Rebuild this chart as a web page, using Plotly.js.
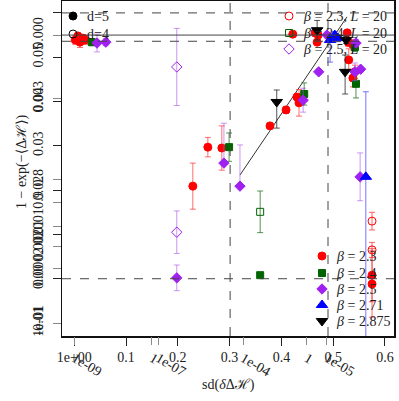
<!DOCTYPE html>
<html>
<head>
<meta charset="utf-8">
<script src="https://cdn.plot.ly/plotly-3.0.1.min.js"></script>
<style>
  html, body { margin: 0; padding: 0; background: #fff; }
  #chart { width: 399px; height: 401px; }
</style>
</head>
<body>
<div id="chart"></div>
<script>
// beta = 2.3, d = 5 (filled)
var redX   = [0.002, 0.007, 0.011, 0.017, 0.021, 0.229, 0.258, 0.285, 0.378, 0.409, 0.430, 0.434, 0.422, 0.465, 0.469, 0.471, 0.527, 0.529, 0.538, 0.530, 0.542, 0.538, 0.575, 0.575];
var redY   = [0.0539, 0.0548, 0.0534, 0.0543, 0.0539, 0.0209, 0.0297, 0.0295, 0.0345, 0.0381, 0.0410, 0.0397, 0.0552, 0.0555, 0.0534, 0.0550, 0.0555, 0.0534, 0.0528, 0.0494, 0.0467, 0.0453, 0.0008, -0.0012];
var redErr = [0.0010, 0.0008, 0.0012, 0.0008, 0.0010, 0.0052, 0.0022, 0.0050, 0.0005, 0.0008, 0.0008, 0.0030, 0.0006, 0.0008, 0.0006, 0.0008, 0.0006, 0.0010, 0.0012, 0.0025, 0.0015, 0.0020, 0.0060, 0.0075];
// beta = 2.3, L = 20 (open)
var redOpenX = [0.575, 0.575];
var redOpenY = [0.0130, 0.0065];
var redOpenErr = [0.0020, 0.0017];

// beta = 2.4
var greenX   = [0.034, 0.299, 0.444, 0.359, 0.544, 0.542];
var greenY   = [0.0534, 0.0297, 0.0417, 0.0008, 0.0440, 0.0523];
var greenErr = [0.0008, 0.0032, 0.0025, 0.0004, 0.0032, 0.0010];
var greenOpenX = [0.359];
var greenOpenY = [0.0151];
var greenOpenErr = [0.0047];

// beta = 2.5
var purpleX = [0.044, 0.061, 0.289, 0.320, 0.442, 0.472, 0.542, 0.553, 0.544, 0.488, 0.552, 0.198];
var purpleY = [0.0532, 0.0534, 0.0261, 0.0209, 0.0403, 0.0467, 0.0467, 0.0473, 0.0532, 0.0550, 0.0230, 0.0002];
var purpleErrUp   = [0.0020, 0.0008, 0.0090, 0.0093, 0.0027, 0.0006, 0.0020, 0.0006, 0.0008, 0.0006, 0.0054, 0.0029];
var purpleErrDown = [0.0020, 0.0008, 0.0005, 0.0000, 0.0027, 0.0006, 0.0020, 0.0006, 0.0008, 0.0006, 0.0054, 0.0029];
var purpleOpenX = [0.198, 0.198];
var purpleOpenY = [0.0478, 0.0105];
var purpleOpenErr = [0.0087, 0.0048];

// beta = 2.71
var blueX = [0.494, 0.503, 0.509, 0.563];
var blueY = [0.0539, 0.0550, 0.0543, 0.0230];
var blueErrUp   = [0.0008, 0.0008, 0.0008, 0.0192];
var blueErrDown = [0.0050, 0.0008, 0.0008, 0.0400];

// beta = 2.875
var blackX = [0.391, 0.469, 0.523, 0.525];
var blackY = [0.0399, 0.0561, 0.0467, 0.0539];
var blackErrUp   = [0.0027, 0.0022, 0.0038, 0.0008];
var blackErrDown = [0.0059, 0.0022, 0.0050, 0.0008];

// fit line
var fitX = [0.320, 0.5266];
var fitY = [0.0234, 0.0591];

// reference lines
var dashedH = [0.06, 0.0536, 0];
var solidH = [0.0550];
var dashedV = [0.301, 0.490];

// tick labels (two overlaid sets)
var xTickVals = [0, 0.1, 0.2, 0.3, 0.4, 0.5, 0.6];
var xTickText = ['1e+00', '0.1', '0.2', '0.3', '0.4', '0.5', '0.6'];
var x2TickVals = [0.0, 0.150, 0.162, 0.326, 0.449, 0.488];
var x2TickText = ['1e-09', '1', '1e-07', '1e-04', '1', '1e-05'];
var yTickVals = [0.06, 0.05, 0.04, 0.03, 0.02, 0.01, 0, -0.01];
var yTickText = ['0.06', '0.05', '0.04', '0.03', '0.02', '0.01', '0.00', '-0.01'];
var y2TickVals = [0.0550, 0.0406, 0.0223, 0.0173, 0.0119, 0.0072, 0.0022, -0.0100];
var y2TickText = ['0.000', '0.003', '0.8', '0.9', '0.001', '0.002', '0.0002', '1e-01'];

// legend keys (placed on a pixel-like overlay axis)
var keyX = [73, 73, 289, 289, 289, 322, 322, 322, 322, 322];
var keyY = [16, 34, 16, 33, 49, 256, 273, 289, 305, 321];
var keySymbols = ['circle', 'circle-open', 'circle-open', 'square-open', 'diamond-open', 'circle', 'square', 'diamond', 'triangle-up', 'triangle-down'];
var keyColors = ['black', 'black', 'red', '#006400', '#A020F0', 'red', '#006400', '#A020F0', 'blue', 'black'];
var keySizes = [8, 8, 8, 7, 8, 8, 7, 8, 10, 10];
var keyLabels = ['d=5', 'd=4',
  '<i>β</i> = 2.3, <i>L</i> = 20', '<i>β</i> = 2.4, <i>L</i> = 20', '<i>β</i> = 2.5, <i>L</i> = 20',
  '<i>β</i> = 2.3', '<i>β</i> = 2.4', '<i>β</i> = 2.5', '<i>β</i> = 2.71', '<i>β</i> = 2.875'];

var FONT = 'Liberation Serif, DejaVu Serif, serif';

function errs(up, down, color) {
    var e = { type: 'data', array: up, color: color, thickness: 1, width: 3, visible: true };
    if (down) { e.symmetric = false; e.arrayminus = down; }
    return e;
}

function pts(x, y, symbol, color, size, err) {
    return {
        x: x, y: y, type: 'scatter', mode: 'markers',
        marker: { symbol: symbol, color: color, size: size, opacity: 1, line: { color: color, width: 1 } },
        error_y: err, showlegend: false, hoverinfo: 'skip'
    };
}

var traces = [
    { x: fitX, y: fitY, type: 'scatter', mode: 'lines', line: { color: '#333', width: 1 }, showlegend: false },
    pts(redX, redY, 'circle', 'red', 8, errs(redErr, null, 'rgba(255,60,60,0.75)')),
    pts(redOpenX, redOpenY, 'circle-open', 'red', 8, errs(redOpenErr, null, 'rgba(255,60,60,0.8)')),
    pts(greenX, greenY, 'square', '#006400', 7, errs(greenErr, null, 'rgba(40,120,40,0.8)')),
    pts(greenOpenX, greenOpenY, 'square-open', '#006400', 7, errs(greenOpenErr, null, 'rgba(40,120,40,0.8)')),
    pts(purpleX, purpleY, 'diamond', '#A020F0', 8, errs(purpleErrUp, purpleErrDown, 'rgba(170,80,235,0.6)')),
    pts(purpleOpenX, purpleOpenY, 'diamond-open', '#A020F0', 8, errs(purpleOpenErr, null, 'rgba(170,80,235,0.6)')),
    pts(blueX, blueY, 'triangle-up', 'blue', 10, errs(blueErrUp, blueErrDown, 'rgba(60,60,255,0.7)')),
    pts(blackX, blackY, 'triangle-down', 'black', 10, errs(blackErrUp, blackErrDown, 'rgba(40,40,40,0.8)')),
    {
        x: keyX, y: keyY, xaxis: 'x3', yaxis: 'y3', type: 'scatter', mode: 'markers',
        marker: { symbol: keySymbols, color: keyColors, size: keySizes, opacity: 1, line: { color: keyColors, width: 1 } },
        showlegend: false, hoverinfo: 'skip'
    }
];

var shapes = [];
dashedH.forEach(function (v) {
    shapes.push({ type: 'line', xref: 'paper', x0: 0, x1: 1, yref: 'y', y0: v, y1: v, line: { color: '#444', width: 1, dash: 'dash' } });
});
solidH.forEach(function (v) {
    shapes.push({ type: 'line', xref: 'paper', x0: 0, x1: 1, yref: 'y', y0: v, y1: v, line: { color: '#444', width: 1 } });
});
dashedV.forEach(function (v) {
    shapes.push({ type: 'line', yref: 'paper', y0: 0, y1: 1, xref: 'x', x0: v, x1: v, line: { color: '#444', width: 1, dash: 'dash' } });
});

var annotations = keyLabels.map(function (t, i) {
    return {
        text: t, xref: 'x3', yref: 'y3', x: keyX[i] + 12, y: keyY[i],
        xanchor: 'left', yanchor: 'middle', showarrow: false,
        font: { family: FONT, size: 14, color: '#222' }
    };
});
annotations.push({
    text: '1 − exp(−⟨Δℋ⟩)', xref: 'paper', yref: 'paper', x: -0.15, y: 0.52,
    textangle: -90, showarrow: false, font: { family: FONT, size: 14, color: '#222' }
});
annotations.push({
    text: 'sd(<i>δ</i>Δℋ)', xref: 'paper', yref: 'paper', x: 0.5, y: -0.145,
    yanchor: 'middle', showarrow: false, font: { family: FONT, size: 14, color: '#222' }
});

var axisBase = {
    showgrid: false, zeroline: false, ticks: 'outside', ticklen: 8, tickwidth: 1,
    tickcolor: '#222', tickfont: { family: FONT, size: 14, color: '#222' }
};

var layout = {
    width: 399, height: 401,
    margin: { l: 62, r: 5, t: 1, b: 65 },
    paper_bgcolor: 'white', plot_bgcolor: 'white',
    showlegend: false,
    xaxis: Object.assign({}, axisBase, {
        range: [-0.0236, 0.6174], tickmode: 'array', tickvals: xTickVals, ticktext: xTickText,
        showline: true, mirror: true, linecolor: '#111', linewidth: 1.5
    }),
    xaxis2: Object.assign({}, axisBase, {
        overlaying: 'x', range: [-0.0236, 0.6174], tickmode: 'array', tickvals: x2TickVals, ticktext: x2TickText,
        tickcolor: '#888', showline: false
    }),
    yaxis: Object.assign({}, axisBase, {
        range: [-0.01293, 0.06269], tickmode: 'array', tickvals: yTickVals, ticktext: yTickText,
        tickangle: -90, ticklabelstandoff: 4,
        showline: true, mirror: true, linecolor: '#111', linewidth: 1.5
    }),
    yaxis2: Object.assign({}, axisBase, {
        overlaying: 'y', side: 'left', range: [-0.01293, 0.06269], tickmode: 'array',
        tickvals: y2TickVals, ticktext: y2TickText, tickangle: -90, ticklabelstandoff: 4,
        tickcolor: '#888', showline: false
    }),
    xaxis3: { overlaying: 'x', range: [62, 394], visible: false, fixedrange: true },
    yaxis3: { overlaying: 'y', range: [336, 1], visible: false, fixedrange: true },
    shapes: shapes,
    annotations: annotations
};

// dummy trace so the overlaid tick axes are drawn
traces.push({ x: [null], y: [null], xaxis: 'x2', yaxis: 'y2', type: 'scatter', showlegend: false });

Plotly.newPlot('chart', traces, layout, { displayModeBar: false, staticPlot: true });
</script>
</body>
</html>
